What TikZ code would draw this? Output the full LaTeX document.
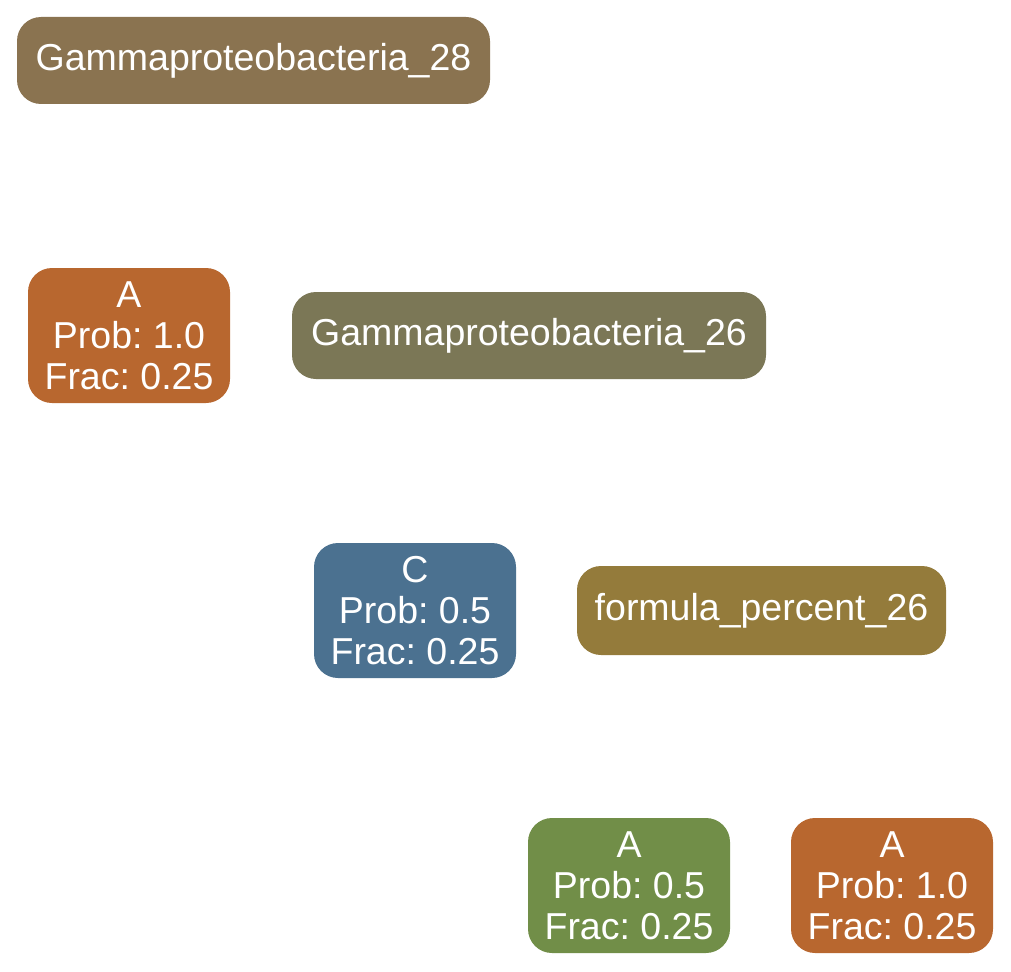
\documentclass[tikz,border=0pt]{standalone}
\usepackage{fontspec}
\setmainfont{Liberation Sans}
\usepackage{xcolor}
\usepackage{tikz}
\usetikzlibrary{positioning}
\frenchspacing

\definecolor{splitbrown}{HTML}{8A7350}
\definecolor{splitolive}{HTML}{7B7756}
\definecolor{splitgold}{HTML}{947B3B}
\definecolor{leaforange}{HTML}{B8672F}
\definecolor{leafblue}{HTML}{4B7190}
\definecolor{leafgreen}{HTML}{718E48}

\begin{document}
\begin{tikzpicture}[
  x=1pt, y=1pt,
  tbox/.style={rounded corners=24pt, inner sep=0pt, text=white, align=center,
               font=\fontsize{37.5}{41}\selectfont},
  split/.style={tbox, minimum height=87pt},
  leaf/.style={tbox, minimum width=202pt, minimum height=135pt}
]
\useasboundingbox (0,0) rectangle (1011,-971);

\node[split, fill=splitbrown, minimum width=473pt] (g28) at (253.5,-60.5) {Gammaproteobacteria\_28};
\node[leaf, fill=leaforange] (leafa) at (129,-335.5) {A\\Prob: 1.0\\Frac: 0.25};
\node[split, fill=splitolive, minimum width=474pt] (g26) at (529,-335.5) {Gammaproteobacteria\_26};
\node[leaf, fill=leafblue] (leafc) at (415,-610.5) {C\\Prob: 0.5\\Frac: 0.25};
\node[split, fill=splitgold, minimum width=369pt, minimum height=89pt] (fp26) at (761.5,-610.5) {formula\_percent\_26};
\node[leaf, fill=leafgreen] (leafb) at (629,-885.5) {A\\Prob: 0.5\\Frac: 0.25};
\node[leaf, fill=leaforange] (leafd) at (892,-885.5) {A\\Prob: 1.0\\Frac: 0.25};
\end{tikzpicture}
\end{document}
